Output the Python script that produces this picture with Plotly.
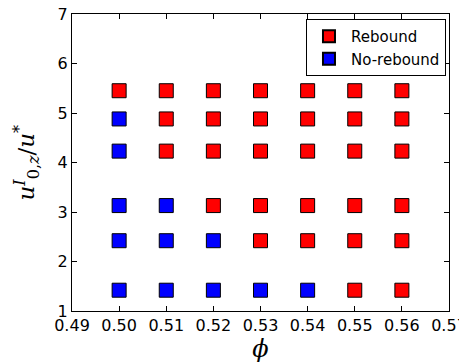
import plotly.graph_objects as go

phi = [0.50, 0.51, 0.52, 0.53, 0.54, 0.55, 0.56]
u_levels = [5.45, 4.88, 4.23, 3.13, 2.42, 1.42]
# number of leading no-rebound phi values per level
n_norebound = [0, 1, 1, 2, 3, 5]

reb_x, reb_y, nor_x, nor_y = [], [], [], []
for u, n in zip(u_levels, n_norebound):
    for i, p in enumerate(phi):
        if i < n:
            nor_x.append(p); nor_y.append(u)
        else:
            reb_x.append(p); reb_y.append(u)

x_ticks = [0.49, 0.50, 0.51, 0.52, 0.53, 0.54, 0.55, 0.56, 0.57]
y_ticks = [1, 2, 3, 4, 5, 6, 7]

fig = go.Figure()
fig.add_trace(go.Scatter(x=reb_x, y=reb_y, mode="markers", name="Rebound",
                         marker=dict(symbol="square", size=14, color="#ff0000",
                                     line=dict(color="#000000", width=1))))
fig.add_trace(go.Scatter(x=nor_x, y=nor_y, mode="markers", name="No-rebound",
                         marker=dict(symbol="square", size=14, color="#0000ff",
                                     line=dict(color="#000000", width=1))))

axis_common = dict(showgrid=False, zeroline=False, showline=True, linecolor="black",
                   linewidth=1, mirror="ticks", ticks="inside", ticklen=5,
                   tickcolor="black", automargin=False, ticklabeloverflow="allow",
                   tickfont=dict(family="DejaVu Sans", size=16, color="black"))

fig.update_layout(
    width=459, height=356,
    margin=dict(l=64, r=18, t=6, b=53),
    plot_bgcolor="white", paper_bgcolor="white",
    xaxis=dict(range=[0.49, 0.57], tickvals=x_ticks,
               ticktext=[f"{v:.2f}" for v in x_ticks],
               title=dict(text="<i>ϕ</i>", font=dict(family="DejaVu Serif", size=24, color="black"),
                          standoff=2),
               **axis_common),
    yaxis=dict(range=[1, 7], tickvals=y_ticks, **axis_common),
    legend=dict(x=0.992, y=0.983, xanchor="right", yanchor="top",
                bordercolor="black", borderwidth=1, bgcolor="white",
                font=dict(family="DejaVu Sans", size=15, color="black"),
                itemsizing="constant", itemwidth=34, tracegroupgap=0),
    showlegend=True,
    annotations=[dict(text="<i>u</i><sup><i>I</i></sup><sub>0,<i>z</i></sub>/<i>u</i><sup>*</sup>",
                      xref="paper", yref="paper", x=0, y=0.5, xanchor="center", yanchor="middle",
                      xshift=-46, yshift=0, textangle=-90, showarrow=False,
                      font=dict(family="DejaVu Serif", size=23, color="black"))],
)

fig.write_html("out.html")
